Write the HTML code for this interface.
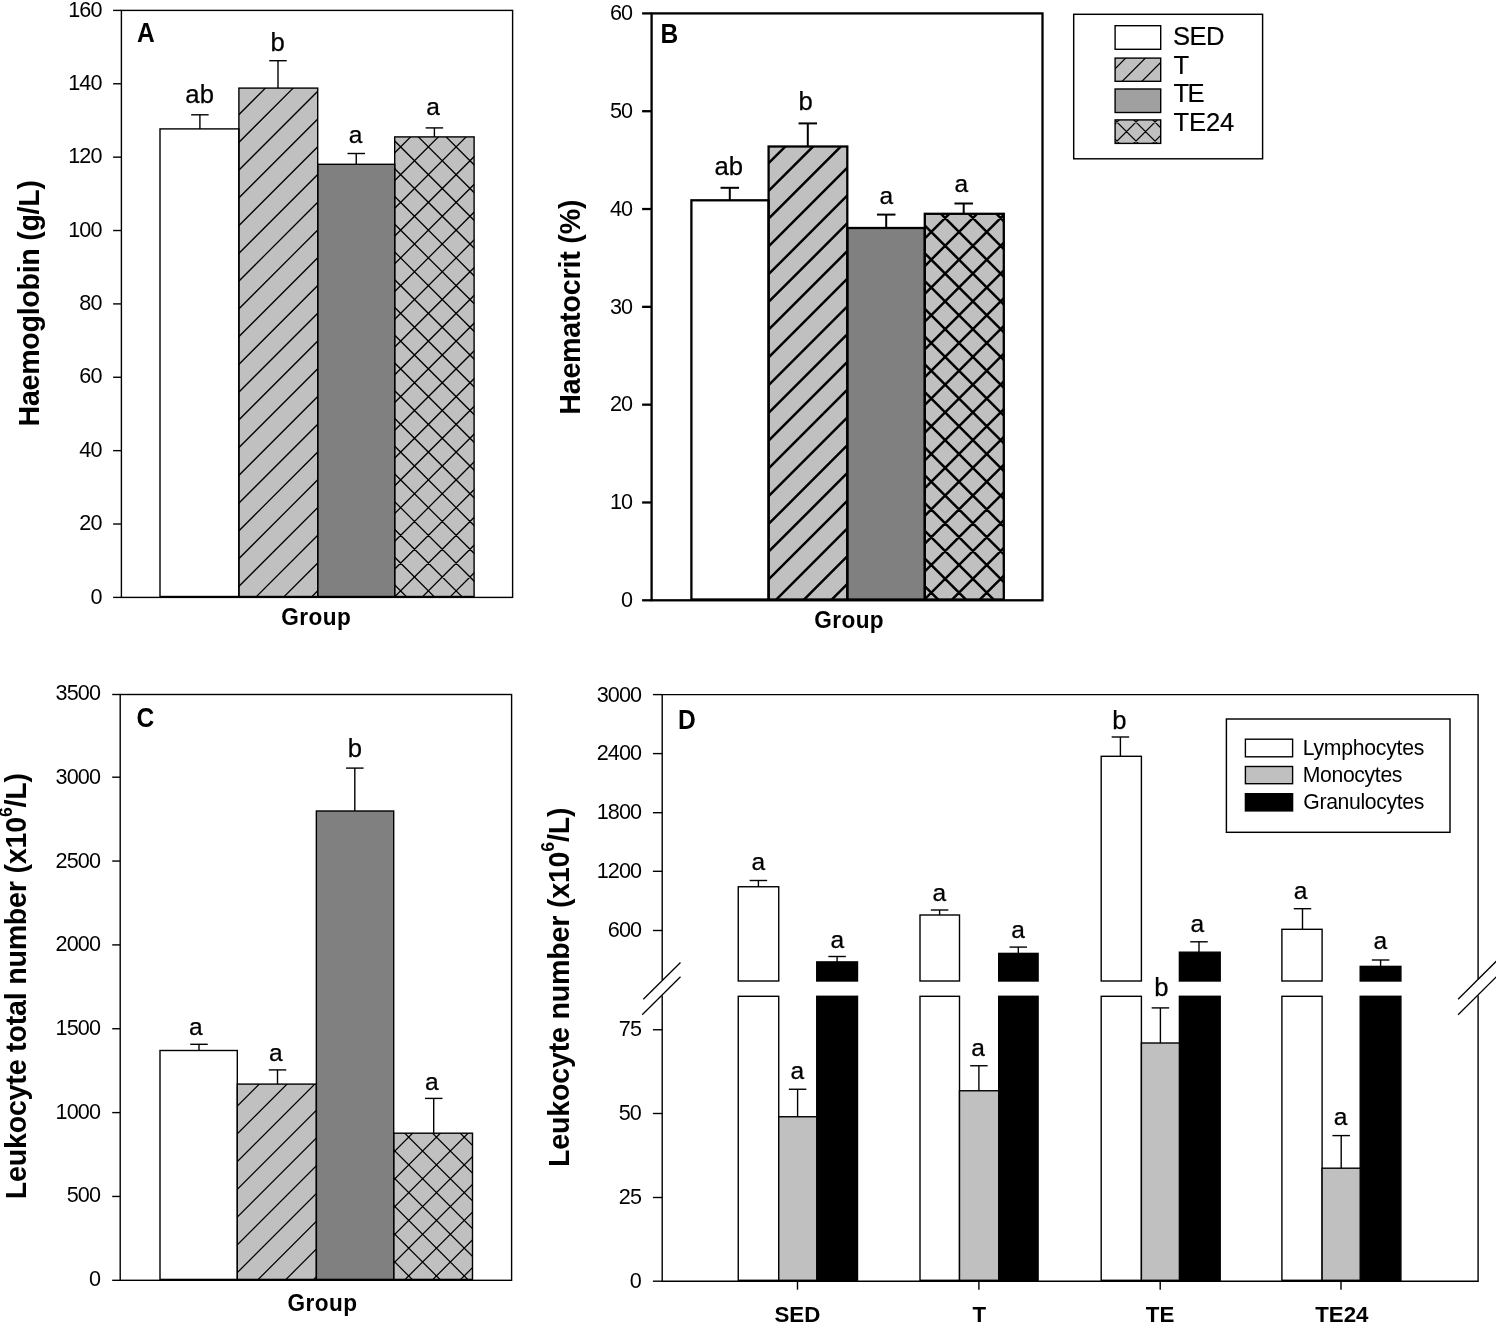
<!DOCTYPE html>
<html lang="en">
<head>
<meta charset="utf-8">
<title>Haematological parameters by group</title>
<style>
html,body{margin:0;padding:0;background:#fff;}
body{width:1496px;height:1323px;overflow:hidden;}
svg{display:block;}
text{font-family:"Liberation Sans", sans-serif;}
</style>
</head>
<body>
<svg width="1496" height="1323" viewBox="0 0 1496 1323" font-family='"Liberation Sans", sans-serif' fill="#000" role="img" aria-label="Haemoglobin, haematocrit and leukocyte counts by group">
<rect x="0" y="0" width="1496" height="1323" fill="#fff"/>
<g id="panelA">
<rect x="160" y="128.9" width="78.9" height="467.6" fill="#fff"/>
<rect x="238.9" y="88.1" width="78.8" height="508.4" fill="#c0c0c0"/>
<clipPath id="c1"><rect x="238.9" y="88.1" width="78.8" height="508.4"/></clipPath>
<path d="M236.9 61.1L319.7 -21.7M236.9 88.85L319.7 6.05M236.9 116.6L319.7 33.8M236.9 144.35L319.7 61.55M236.9 172.1L319.7 89.3M236.9 199.85L319.7 117.05M236.9 227.6L319.7 144.8M236.9 255.35L319.7 172.55M236.9 283.1L319.7 200.3M236.9 310.85L319.7 228.05M236.9 338.6L319.7 255.8M236.9 366.35L319.7 283.55M236.9 394.1L319.7 311.3M236.9 421.85L319.7 339.05M236.9 449.6L319.7 366.8M236.9 477.35L319.7 394.55M236.9 505.1L319.7 422.3M236.9 532.85L319.7 450.05M236.9 560.6L319.7 477.8M236.9 588.35L319.7 505.55M236.9 616.1L319.7 533.3M236.9 643.85L319.7 561.05M236.9 671.6L319.7 588.8M236.9 699.35L319.7 616.55M236.9 727.1L319.7 644.3" stroke="#000" stroke-width="1.25" fill="none" clip-path="url(#c1)"/>
<rect x="317.7" y="164.3" width="77" height="432.2" fill="#808080"/>
<rect x="394.7" y="136.9" width="79.4" height="459.6" fill="#c0c0c0"/>
<clipPath id="c2"><rect x="394.7" y="136.9" width="79.4" height="459.6"/></clipPath>
<path d="M392.7 99.3L476.1 15.9M392.7 127.05L476.1 43.65M392.7 154.8L476.1 71.4M392.7 182.55L476.1 99.15M392.7 210.3L476.1 126.9M392.7 238.05L476.1 154.65M392.7 265.8L476.1 182.4M392.7 293.55L476.1 210.15M392.7 321.3L476.1 237.9M392.7 349.05L476.1 265.65M392.7 376.8L476.1 293.4M392.7 404.55L476.1 321.15M392.7 432.3L476.1 348.9M392.7 460.05L476.1 376.65M392.7 487.8L476.1 404.4M392.7 515.55L476.1 432.15M392.7 543.3L476.1 459.9M392.7 571.05L476.1 487.65M392.7 598.8L476.1 515.4M392.7 626.55L476.1 543.15M392.7 654.3L476.1 570.9M392.7 682.05L476.1 598.65M392.7 709.8L476.1 626.4M392.7 638.45L476.1 721.85M392.7 610.7L476.1 694.1M392.7 582.95L476.1 666.35M392.7 555.2L476.1 638.6M392.7 527.45L476.1 610.85M392.7 499.7L476.1 583.1M392.7 471.95L476.1 555.35M392.7 444.2L476.1 527.6M392.7 416.45L476.1 499.85M392.7 388.7L476.1 472.1M392.7 360.95L476.1 444.35M392.7 333.2L476.1 416.6M392.7 305.45L476.1 388.85M392.7 277.7L476.1 361.1M392.7 249.95L476.1 333.35M392.7 222.2L476.1 305.6M392.7 194.45L476.1 277.85M392.7 166.7L476.1 250.1M392.7 138.95L476.1 222.35M392.7 111.2L476.1 194.6M392.7 83.45L476.1 166.85M392.7 55.7L476.1 139.1M392.7 27.95L476.1 111.35M392.7 0.2L476.1 83.6" stroke="#000" stroke-width="1.25" fill="none" clip-path="url(#c2)"/>
<rect x="160" y="128.9" width="78.9" height="467.6" fill="none" stroke="#000" stroke-width="1.4"/>
<line x1="199.9" y1="114.8" x2="199.9" y2="128.9" stroke="#000" stroke-width="1.4"/>
<line x1="191.15" y1="114.8" x2="208.65" y2="114.8" stroke="#000" stroke-width="1.4"/>
<text transform="translate(185.35 103.4)" font-size="25.7" stroke="#000" stroke-width="0.25">ab</text>
<rect x="238.9" y="88.1" width="78.8" height="508.4" fill="none" stroke="#000" stroke-width="1.4"/>
<line x1="278" y1="60.7" x2="278" y2="88.1" stroke="#000" stroke-width="1.4"/>
<line x1="269.25" y1="60.7" x2="286.75" y2="60.7" stroke="#000" stroke-width="1.4"/>
<text transform="translate(270.45 51)" font-size="25.7" stroke="#000" stroke-width="0.25">b</text>
<rect x="317.7" y="164.3" width="77" height="432.2" fill="none" stroke="#000" stroke-width="1.4"/>
<line x1="356.25" y1="153.5" x2="356.25" y2="164.3" stroke="#000" stroke-width="1.4"/>
<line x1="347.5" y1="153.5" x2="365" y2="153.5" stroke="#000" stroke-width="1.4"/>
<text transform="translate(348.68 142.7)" font-size="24.5" stroke="#000" stroke-width="0.25">a</text>
<rect x="394.7" y="136.9" width="79.4" height="459.6" fill="none" stroke="#000" stroke-width="1.4"/>
<line x1="434.4" y1="127.9" x2="434.4" y2="136.9" stroke="#000" stroke-width="1.4"/>
<line x1="425.65" y1="127.9" x2="443.15" y2="127.9" stroke="#000" stroke-width="1.4"/>
<text transform="translate(426.18 115.2)" font-size="24.5" stroke="#000" stroke-width="0.25">a</text>
<rect x="121.4" y="10.4" width="391.2" height="587" fill="none" stroke="#000" stroke-width="1.4"/>
<line x1="113.1" y1="597.4" x2="121.4" y2="597.4" stroke="#000" stroke-width="1.4"/>
<text transform="translate(90.42 603.6) scale(1.0000 1.0200)" font-size="21.6" letter-spacing="-0.9">0</text>
<line x1="113.1" y1="524.02" x2="121.4" y2="524.02" stroke="#000" stroke-width="1.4"/>
<text transform="translate(79.33 530.23) scale(1.0000 1.0200)" font-size="21.6" letter-spacing="-0.9">20</text>
<line x1="113.1" y1="450.65" x2="121.4" y2="450.65" stroke="#000" stroke-width="1.4"/>
<text transform="translate(79.33 456.85) scale(1.0000 1.0200)" font-size="21.6" letter-spacing="-0.9">40</text>
<line x1="113.1" y1="377.27" x2="121.4" y2="377.27" stroke="#000" stroke-width="1.4"/>
<text transform="translate(79.33 383.47) scale(1.0000 1.0200)" font-size="21.6" letter-spacing="-0.9">60</text>
<line x1="113.1" y1="303.9" x2="121.4" y2="303.9" stroke="#000" stroke-width="1.4"/>
<text transform="translate(79.33 310.1) scale(1.0000 1.0200)" font-size="21.6" letter-spacing="-0.9">80</text>
<line x1="113.1" y1="230.52" x2="121.4" y2="230.52" stroke="#000" stroke-width="1.4"/>
<text transform="translate(68.19 236.72) scale(1.0000 1.0200)" font-size="21.6" letter-spacing="-0.9">100</text>
<line x1="113.1" y1="157.15" x2="121.4" y2="157.15" stroke="#000" stroke-width="1.4"/>
<text transform="translate(68.19 163.35) scale(1.0000 1.0200)" font-size="21.6" letter-spacing="-0.9">120</text>
<line x1="113.1" y1="83.77" x2="121.4" y2="83.77" stroke="#000" stroke-width="1.4"/>
<text transform="translate(68.19 89.97) scale(1.0000 1.0200)" font-size="21.6" letter-spacing="-0.9">140</text>
<line x1="113.1" y1="10.4" x2="121.4" y2="10.4" stroke="#000" stroke-width="1.4"/>
<text transform="translate(68.19 16.6) scale(1.0000 1.0200)" font-size="21.6" letter-spacing="-0.9">160</text>
<text transform="translate(136.99 41.6) scale(0.9100 1.0000)" font-size="27" font-weight="bold">A</text>
<text transform="translate(281.2 625) scale(1.0000 1.0200)" font-size="22.6" font-weight="bold" letter-spacing="0.45">Group</text>
<text transform="translate(39.3 426.43) rotate(-90) scale(1.0000 1.0400)" font-size="28.6" font-weight="bold" letter-spacing="-0.28">Haemoglobin (g/L)</text>
</g>
<g id="panelB">
<rect x="691.4" y="200.3" width="77.2" height="399.2" fill="#fff"/>
<rect x="768.6" y="146.5" width="78.7" height="453" fill="#c0c0c0"/>
<clipPath id="c3"><rect x="768.6" y="146.5" width="78.7" height="453"/></clipPath>
<path d="M766.6 109.75L849.3 27.05M766.6 137.5L849.3 54.8M766.6 165.25L849.3 82.55M766.6 193L849.3 110.3M766.6 220.75L849.3 138.05M766.6 248.5L849.3 165.8M766.6 276.25L849.3 193.55M766.6 304L849.3 221.3M766.6 331.75L849.3 249.05M766.6 359.5L849.3 276.8M766.6 387.25L849.3 304.55M766.6 415L849.3 332.3M766.6 442.75L849.3 360.05M766.6 470.5L849.3 387.8M766.6 498.25L849.3 415.55M766.6 526L849.3 443.3M766.6 553.75L849.3 471.05M766.6 581.5L849.3 498.8M766.6 609.25L849.3 526.55M766.6 637L849.3 554.3M766.6 664.75L849.3 582.05M766.6 692.5L849.3 609.8M766.6 720.25L849.3 637.55" stroke="#000" stroke-width="2.5" fill="none" clip-path="url(#c3)"/>
<rect x="847.3" y="228" width="77.5" height="371.5" fill="#808080"/>
<rect x="924.8" y="213.8" width="79" height="385.7" fill="#c0c0c0"/>
<clipPath id="c4"><rect x="924.8" y="213.8" width="79" height="385.7"/></clipPath>
<path d="M922.8 184.85L1005.8 101.85M922.8 212.6L1005.8 129.6M922.8 240.35L1005.8 157.35M922.8 268.1L1005.8 185.1M922.8 295.85L1005.8 212.85M922.8 323.6L1005.8 240.6M922.8 351.35L1005.8 268.35M922.8 379.1L1005.8 296.1M922.8 406.85L1005.8 323.85M922.8 434.6L1005.8 351.6M922.8 462.35L1005.8 379.35M922.8 490.1L1005.8 407.1M922.8 517.85L1005.8 434.85M922.8 545.6L1005.8 462.6M922.8 573.35L1005.8 490.35M922.8 601.1L1005.8 518.1M922.8 628.85L1005.8 545.85M922.8 656.6L1005.8 573.6M922.8 684.35L1005.8 601.35M922.8 712.1L1005.8 629.1M922.8 639.7L1005.8 722.7M922.8 611.95L1005.8 694.95M922.8 584.2L1005.8 667.2M922.8 556.45L1005.8 639.45M922.8 528.7L1005.8 611.7M922.8 500.95L1005.8 583.95M922.8 473.2L1005.8 556.2M922.8 445.45L1005.8 528.45M922.8 417.7L1005.8 500.7M922.8 389.95L1005.8 472.95M922.8 362.2L1005.8 445.2M922.8 334.45L1005.8 417.45M922.8 306.7L1005.8 389.7M922.8 278.95L1005.8 361.95M922.8 251.2L1005.8 334.2M922.8 223.45L1005.8 306.45M922.8 195.7L1005.8 278.7M922.8 167.95L1005.8 250.95M922.8 140.2L1005.8 223.2M922.8 112.45L1005.8 195.45M922.8 84.7L1005.8 167.7" stroke="#000" stroke-width="2.5" fill="none" clip-path="url(#c4)"/>
<rect x="691.4" y="200.3" width="77.2" height="399.2" fill="none" stroke="#000" stroke-width="2.3"/>
<line x1="729.8" y1="187.8" x2="729.8" y2="200.3" stroke="#000" stroke-width="2.0"/>
<line x1="720.55" y1="187.8" x2="739.05" y2="187.8" stroke="#000" stroke-width="2.0"/>
<text transform="translate(714.5 174.6)" font-size="25.7" stroke="#000" stroke-width="0.25">ab</text>
<rect x="768.6" y="146.5" width="78.7" height="453" fill="none" stroke="#000" stroke-width="2.3"/>
<line x1="807.8" y1="123.4" x2="807.8" y2="146.5" stroke="#000" stroke-width="2.0"/>
<line x1="798.55" y1="123.4" x2="817.05" y2="123.4" stroke="#000" stroke-width="2.0"/>
<text transform="translate(798.55 109.9)" font-size="25.7" stroke="#000" stroke-width="0.25">b</text>
<rect x="847.3" y="228" width="77.5" height="371.5" fill="none" stroke="#000" stroke-width="2.3"/>
<line x1="886.2" y1="214.6" x2="886.2" y2="228" stroke="#000" stroke-width="2.0"/>
<line x1="876.95" y1="214.6" x2="895.45" y2="214.6" stroke="#000" stroke-width="2.0"/>
<text transform="translate(879.58 204.2)" font-size="24.5" stroke="#000" stroke-width="0.25">a</text>
<rect x="924.8" y="213.8" width="79" height="385.7" fill="none" stroke="#000" stroke-width="2.3"/>
<line x1="963.7" y1="203.5" x2="963.7" y2="213.8" stroke="#000" stroke-width="2.0"/>
<line x1="954.45" y1="203.5" x2="972.95" y2="203.5" stroke="#000" stroke-width="2.0"/>
<text transform="translate(954.48 191.9)" font-size="24.5" stroke="#000" stroke-width="0.25">a</text>
<rect x="651.6" y="13.4" width="390.9" height="586.9" fill="none" stroke="#000" stroke-width="2.3"/>
<line x1="642.1" y1="600.3" x2="651.6" y2="600.3" stroke="#000" stroke-width="2.3"/>
<text transform="translate(621.02 607.1) scale(1.0000 1.0200)" font-size="21.6" letter-spacing="-0.9">0</text>
<line x1="642.1" y1="502.48" x2="651.6" y2="502.48" stroke="#000" stroke-width="2.3"/>
<text transform="translate(609.93 509.28) scale(1.0000 1.0200)" font-size="21.6" letter-spacing="-0.9">10</text>
<line x1="642.1" y1="404.67" x2="651.6" y2="404.67" stroke="#000" stroke-width="2.3"/>
<text transform="translate(609.93 411.47) scale(1.0000 1.0200)" font-size="21.6" letter-spacing="-0.9">20</text>
<line x1="642.1" y1="306.85" x2="651.6" y2="306.85" stroke="#000" stroke-width="2.3"/>
<text transform="translate(609.93 313.65) scale(1.0000 1.0200)" font-size="21.6" letter-spacing="-0.9">30</text>
<line x1="642.1" y1="209.03" x2="651.6" y2="209.03" stroke="#000" stroke-width="2.3"/>
<text transform="translate(609.93 215.83) scale(1.0000 1.0200)" font-size="21.6" letter-spacing="-0.9">40</text>
<line x1="642.1" y1="111.22" x2="651.6" y2="111.22" stroke="#000" stroke-width="2.3"/>
<text transform="translate(609.93 118.02) scale(1.0000 1.0200)" font-size="21.6" letter-spacing="-0.9">50</text>
<line x1="642.1" y1="13.4" x2="651.6" y2="13.4" stroke="#000" stroke-width="2.3"/>
<text transform="translate(609.93 20.2) scale(1.0000 1.0200)" font-size="21.6" letter-spacing="-0.9">60</text>
<text transform="translate(660.44 43.2) scale(0.9100 1.0000)" font-size="27" font-weight="bold">B</text>
<text transform="translate(814.3 627.5) scale(1.0000 1.0200)" font-size="22.6" font-weight="bold" letter-spacing="0.4">Group</text>
<text transform="translate(580.2 414.83) rotate(-90) scale(1.0000 1.0400)" font-size="28.6" font-weight="bold" letter-spacing="-0.16">Haematocrit (%)</text>
</g>
<g id="legendTop">
<rect x="1073.7" y="14.3" width="188.9" height="144.5" fill="#fff" stroke="#000" stroke-width="1.45"/>
<rect x="1115.1" y="25.7" width="45.6" height="23.6" fill="#fff"/>
<rect x="1115.1" y="25.7" width="45.6" height="23.6" fill="none" stroke="#000" stroke-width="1.4"/>
<text transform="translate(1173.05 44.9)" font-size="25.6" stroke="#000" stroke-width="0.2" letter-spacing="-0.65">SED</text>
<rect x="1115.1" y="58.1" width="45.6" height="23.2" fill="#c0c0c0"/>
<clipPath id="c5"><rect x="1115.1" y="58.1" width="45.6" height="23.2"/></clipPath>
<path d="M1113.1 31.3L1162.7 -18.3M1113.1 51L1162.7 1.4M1113.1 70.7L1162.7 21.1M1113.1 90.4L1162.7 40.8M1113.1 110.1L1162.7 60.5M1113.1 129.8L1162.7 80.2M1113.1 149.5L1162.7 99.9" stroke="#000" stroke-width="1.2" fill="none" clip-path="url(#c5)"/>
<rect x="1115.1" y="58.1" width="45.6" height="23.2" fill="none" stroke="#000" stroke-width="1.4"/>
<text transform="translate(1173.62 73.5)" font-size="25.6" stroke="#000" stroke-width="0.2">T</text>
<rect x="1115.1" y="89" width="45.6" height="23.5" fill="#a0a0a0"/>
<rect x="1115.1" y="89" width="45.6" height="23.5" fill="none" stroke="#000" stroke-width="1.4"/>
<text transform="translate(1173.62 101.9)" font-size="25.6" stroke="#000" stroke-width="0.2" letter-spacing="-1.74">TE</text>
<rect x="1115.1" y="119.9" width="45.6" height="23.5" fill="#c0c0c0"/>
<clipPath id="c6"><rect x="1115.1" y="119.9" width="45.6" height="23.5"/></clipPath>
<path d="M1113.1 88L1162.7 38.4M1113.1 107L1162.7 57.4M1113.1 126L1162.7 76.4M1113.1 145L1162.7 95.4M1113.1 164L1162.7 114.4M1113.1 183L1162.7 133.4M1113.1 202L1162.7 152.4M1113.1 221L1162.7 171.4M1113.1 175.2L1162.7 224.8M1113.1 156.2L1162.7 205.8M1113.1 137.2L1162.7 186.8M1113.1 118.2L1162.7 167.8M1113.1 99.2L1162.7 148.8M1113.1 80.2L1162.7 129.8M1113.1 61.2L1162.7 110.8M1113.1 42.2L1162.7 91.8" stroke="#000" stroke-width="1.2" fill="none" clip-path="url(#c6)"/>
<rect x="1115.1" y="119.9" width="45.6" height="23.5" fill="none" stroke="#000" stroke-width="1.4"/>
<text transform="translate(1173.62 130.6)" font-size="25.6" stroke="#000" stroke-width="0.2" letter-spacing="-0.17">TE24</text>
</g>
<g id="panelC">
<rect x="160" y="1050.5" width="77.3" height="228.9" fill="#fff"/>
<rect x="237.3" y="1084.1" width="79.05" height="195.3" fill="#c0c0c0"/>
<clipPath id="c7"><rect x="237.3" y="1084.1" width="79.05" height="195.3"/></clipPath>
<path d="M235.3 1052.6L318.35 969.55M235.3 1080.35L318.35 997.3M235.3 1108.1L318.35 1025.05M235.3 1135.85L318.35 1052.8M235.3 1163.6L318.35 1080.55M235.3 1191.35L318.35 1108.3M235.3 1219.1L318.35 1136.05M235.3 1246.85L318.35 1163.8M235.3 1274.6L318.35 1191.55M235.3 1302.35L318.35 1219.3M235.3 1330.1L318.35 1247.05M235.3 1357.85L318.35 1274.8M235.3 1385.6L318.35 1302.55M235.3 1413.35L318.35 1330.3" stroke="#000" stroke-width="1.25" fill="none" clip-path="url(#c7)"/>
<rect x="316.35" y="811" width="77.35" height="468.4" fill="#808080"/>
<rect x="393.7" y="1133.2" width="78.8" height="146.2" fill="#c0c0c0"/>
<clipPath id="c8"><rect x="393.7" y="1133.2" width="78.8" height="146.2"/></clipPath>
<path d="M391.7 1098.65L474.5 1015.85M391.7 1126.4L474.5 1043.6M391.7 1154.15L474.5 1071.35M391.7 1181.9L474.5 1099.1M391.7 1209.65L474.5 1126.85M391.7 1237.4L474.5 1154.6M391.7 1265.15L474.5 1182.35M391.7 1292.9L474.5 1210.1M391.7 1320.65L474.5 1237.85M391.7 1348.4L474.5 1265.6M391.7 1376.15L474.5 1293.35M391.7 1403.9L474.5 1321.1M391.7 1314.4L474.5 1397.2M391.7 1286.65L474.5 1369.45M391.7 1258.9L474.5 1341.7M391.7 1231.15L474.5 1313.95M391.7 1203.4L474.5 1286.2M391.7 1175.65L474.5 1258.45M391.7 1147.9L474.5 1230.7M391.7 1120.15L474.5 1202.95M391.7 1092.4L474.5 1175.2M391.7 1064.65L474.5 1147.45M391.7 1036.9L474.5 1119.7M391.7 1009.15L474.5 1091.95" stroke="#000" stroke-width="1.25" fill="none" clip-path="url(#c8)"/>
<rect x="160" y="1050.5" width="77.3" height="228.9" fill="none" stroke="#000" stroke-width="1.4"/>
<line x1="199" y1="1044.3" x2="199" y2="1050.5" stroke="#000" stroke-width="1.4"/>
<line x1="190.25" y1="1044.3" x2="207.75" y2="1044.3" stroke="#000" stroke-width="1.4"/>
<text transform="translate(188.88 1035.4)" font-size="24.5" stroke="#000" stroke-width="0.25">a</text>
<rect x="237.3" y="1084.1" width="79.05" height="195.3" fill="none" stroke="#000" stroke-width="1.4"/>
<line x1="277.5" y1="1069.9" x2="277.5" y2="1084.1" stroke="#000" stroke-width="1.4"/>
<line x1="268.75" y1="1069.9" x2="286.25" y2="1069.9" stroke="#000" stroke-width="1.4"/>
<text transform="translate(268.98 1060.8)" font-size="24.5" stroke="#000" stroke-width="0.25">a</text>
<rect x="316.35" y="811" width="77.35" height="468.4" fill="none" stroke="#000" stroke-width="1.4"/>
<line x1="354.8" y1="768.1" x2="354.8" y2="811" stroke="#000" stroke-width="1.4"/>
<line x1="346.05" y1="768.1" x2="363.55" y2="768.1" stroke="#000" stroke-width="1.4"/>
<text transform="translate(347.75 756.5)" font-size="25.7" stroke="#000" stroke-width="0.25">b</text>
<rect x="393.7" y="1133.2" width="78.8" height="146.2" fill="none" stroke="#000" stroke-width="1.4"/>
<line x1="433.7" y1="1098.4" x2="433.7" y2="1133.2" stroke="#000" stroke-width="1.4"/>
<line x1="424.95" y1="1098.4" x2="442.45" y2="1098.4" stroke="#000" stroke-width="1.4"/>
<text transform="translate(425.08 1089.9)" font-size="24.5" stroke="#000" stroke-width="0.25">a</text>
<rect x="120.2" y="694.5" width="391.4" height="585.8" fill="none" stroke="#000" stroke-width="1.4"/>
<line x1="112.2" y1="1280.3" x2="120.2" y2="1280.3" stroke="#000" stroke-width="1.4"/>
<text transform="translate(88.92 1286.05) scale(1.0000 1.0200)" font-size="21.6" letter-spacing="-0.9">0</text>
<line x1="112.2" y1="1196.45" x2="120.2" y2="1196.45" stroke="#000" stroke-width="1.4"/>
<text transform="translate(66.69 1202.38) scale(1.0000 1.0200)" font-size="21.6" letter-spacing="-0.9">500</text>
<line x1="112.2" y1="1112.6" x2="120.2" y2="1112.6" stroke="#000" stroke-width="1.4"/>
<text transform="translate(55.6 1118.71) scale(1.0000 1.0200)" font-size="21.6" letter-spacing="-0.9">1000</text>
<line x1="112.2" y1="1028.75" x2="120.2" y2="1028.75" stroke="#000" stroke-width="1.4"/>
<text transform="translate(55.6 1035.04) scale(1.0000 1.0200)" font-size="21.6" letter-spacing="-0.9">1500</text>
<line x1="112.2" y1="944.9" x2="120.2" y2="944.9" stroke="#000" stroke-width="1.4"/>
<text transform="translate(55.6 951.37) scale(1.0000 1.0200)" font-size="21.6" letter-spacing="-0.9">2000</text>
<line x1="112.2" y1="861.05" x2="120.2" y2="861.05" stroke="#000" stroke-width="1.4"/>
<text transform="translate(55.6 867.7) scale(1.0000 1.0200)" font-size="21.6" letter-spacing="-0.9">2500</text>
<line x1="112.2" y1="777.2" x2="120.2" y2="777.2" stroke="#000" stroke-width="1.4"/>
<text transform="translate(55.6 784.03) scale(1.0000 1.0200)" font-size="21.6" letter-spacing="-0.9">3000</text>
<line x1="112.2" y1="694.5" x2="120.2" y2="694.5" stroke="#000" stroke-width="1.4"/>
<text transform="translate(55.6 700.36) scale(1.0000 1.0200)" font-size="21.6" letter-spacing="-0.9">3500</text>
<text transform="translate(136.52 727) scale(0.9100 1.0000)" font-size="27" font-weight="bold">C</text>
<text transform="translate(287.5 1310.5) scale(1.0000 1.0200)" font-size="22.6" font-weight="bold" letter-spacing="0.43">Group</text>
<text transform="translate(26.4 1199.23) rotate(-90) scale(1.0000 1.0400)" font-size="28.6" font-weight="bold" letter-spacing="-0.2">Leukocyte total number (x10<tspan font-size="17.6" dy="-13.6">6</tspan><tspan dy="13.6">/L)</tspan></text>
</g>
<g id="panelD">
<rect x="738.25" y="886.75" width="40.5" height="94.25" fill="#fff" stroke="#000" stroke-width="1.4"/>
<rect x="738.25" y="996.3" width="40.5" height="284" fill="#fff" stroke="#000" stroke-width="1.4"/>
<line x1="758.4" y1="880.5" x2="758.4" y2="886.75" stroke="#000" stroke-width="1.4"/>
<line x1="749.65" y1="880.5" x2="767.15" y2="880.5" stroke="#000" stroke-width="1.4"/>
<text transform="translate(751.53 870.2)" font-size="24.5" stroke="#000" stroke-width="0.25">a</text>
<rect x="816.75" y="961.9" width="40.75" height="19.1" fill="#000" stroke="#000" stroke-width="1.4"/>
<rect x="816.75" y="996.3" width="40.75" height="284" fill="#000" stroke="#000" stroke-width="1.4"/>
<line x1="837.1" y1="956.5" x2="837.1" y2="961.9" stroke="#000" stroke-width="1.4"/>
<line x1="828.35" y1="956.5" x2="845.85" y2="956.5" stroke="#000" stroke-width="1.4"/>
<text transform="translate(830.38 947.6)" font-size="24.5" stroke="#000" stroke-width="0.25">a</text>
<rect x="778.75" y="1116.75" width="38" height="163.55" fill="#c0c0c0" stroke="#000" stroke-width="1.4"/>
<line x1="797.6" y1="1089.25" x2="797.6" y2="1116.75" stroke="#000" stroke-width="1.4"/>
<line x1="788.85" y1="1089.25" x2="806.35" y2="1089.25" stroke="#000" stroke-width="1.4"/>
<text transform="translate(790.43 1079.3)" font-size="24.5" stroke="#000" stroke-width="0.25">a</text>
<line x1="797.5" y1="1281.2" x2="797.5" y2="1289.7" stroke="#000" stroke-width="1.4"/>
<text transform="translate(774.4 1321.6)" font-size="22.3" font-weight="bold">SED</text>
<rect x="920" y="915" width="39.5" height="66" fill="#fff" stroke="#000" stroke-width="1.4"/>
<rect x="920" y="996.3" width="39.5" height="284" fill="#fff" stroke="#000" stroke-width="1.4"/>
<line x1="939.6" y1="910" x2="939.6" y2="915" stroke="#000" stroke-width="1.4"/>
<line x1="930.85" y1="910" x2="948.35" y2="910" stroke="#000" stroke-width="1.4"/>
<text transform="translate(932.38 900.8)" font-size="24.5" stroke="#000" stroke-width="0.25">a</text>
<rect x="998.7" y="953.4" width="39.4" height="27.6" fill="#000" stroke="#000" stroke-width="1.4"/>
<rect x="998.7" y="996.3" width="39.4" height="284" fill="#000" stroke="#000" stroke-width="1.4"/>
<line x1="1018.3" y1="947.1" x2="1018.3" y2="953.4" stroke="#000" stroke-width="1.4"/>
<line x1="1009.55" y1="947.1" x2="1027.05" y2="947.1" stroke="#000" stroke-width="1.4"/>
<text transform="translate(1011.18 938.4)" font-size="24.5" stroke="#000" stroke-width="0.25">a</text>
<rect x="959.5" y="1090.75" width="39.2" height="189.55" fill="#c0c0c0" stroke="#000" stroke-width="1.4"/>
<line x1="978.9" y1="1065.75" x2="978.9" y2="1090.75" stroke="#000" stroke-width="1.4"/>
<line x1="970.15" y1="1065.75" x2="987.65" y2="1065.75" stroke="#000" stroke-width="1.4"/>
<text transform="translate(971.18 1056.1)" font-size="24.5" stroke="#000" stroke-width="0.25">a</text>
<line x1="978.9" y1="1281.2" x2="978.9" y2="1289.7" stroke="#000" stroke-width="1.4"/>
<text transform="translate(972.4 1321.6)" font-size="22.3" font-weight="bold">T</text>
<rect x="1101.2" y="756.3" width="40.2" height="224.7" fill="#fff" stroke="#000" stroke-width="1.4"/>
<rect x="1101.2" y="996.3" width="40.2" height="284" fill="#fff" stroke="#000" stroke-width="1.4"/>
<line x1="1120.4" y1="737" x2="1120.4" y2="756.3" stroke="#000" stroke-width="1.4"/>
<line x1="1111.65" y1="737" x2="1129.15" y2="737" stroke="#000" stroke-width="1.4"/>
<text transform="translate(1112.15 729.3)" font-size="25.7" stroke="#000" stroke-width="0.25">b</text>
<rect x="1179.4" y="952.2" width="40.8" height="28.8" fill="#000" stroke="#000" stroke-width="1.4"/>
<rect x="1179.4" y="996.3" width="40.8" height="284" fill="#000" stroke="#000" stroke-width="1.4"/>
<line x1="1199" y1="941.8" x2="1199" y2="952.2" stroke="#000" stroke-width="1.4"/>
<line x1="1190.25" y1="941.8" x2="1207.75" y2="941.8" stroke="#000" stroke-width="1.4"/>
<text transform="translate(1190.58 931.9)" font-size="24.5" stroke="#000" stroke-width="0.25">a</text>
<rect x="1141.4" y="1043" width="38" height="237.3" fill="#c0c0c0" stroke="#000" stroke-width="1.4"/>
<line x1="1160.4" y1="1007.9" x2="1160.4" y2="1043" stroke="#000" stroke-width="1.4"/>
<line x1="1151.65" y1="1007.9" x2="1169.15" y2="1007.9" stroke="#000" stroke-width="1.4"/>
<text transform="translate(1154.25 996)" font-size="25.7" stroke="#000" stroke-width="0.25">b</text>
<line x1="1160.2" y1="1281.2" x2="1160.2" y2="1289.7" stroke="#000" stroke-width="1.4"/>
<text transform="translate(1145.79 1321.6)" font-size="22.3" font-weight="bold">TE</text>
<rect x="1281.9" y="929.3" width="40.2" height="51.7" fill="#fff" stroke="#000" stroke-width="1.4"/>
<rect x="1281.9" y="996.3" width="40.2" height="284" fill="#fff" stroke="#000" stroke-width="1.4"/>
<line x1="1302.5" y1="908.7" x2="1302.5" y2="929.3" stroke="#000" stroke-width="1.4"/>
<line x1="1293.75" y1="908.7" x2="1311.25" y2="908.7" stroke="#000" stroke-width="1.4"/>
<text transform="translate(1293.78 899.2)" font-size="24.5" stroke="#000" stroke-width="0.25">a</text>
<rect x="1360.2" y="966.4" width="40.7" height="14.6" fill="#000" stroke="#000" stroke-width="1.4"/>
<rect x="1360.2" y="996.3" width="40.7" height="284" fill="#000" stroke="#000" stroke-width="1.4"/>
<line x1="1380.6" y1="960" x2="1380.6" y2="966.4" stroke="#000" stroke-width="1.4"/>
<line x1="1371.85" y1="960" x2="1389.35" y2="960" stroke="#000" stroke-width="1.4"/>
<text transform="translate(1373.58 948.8)" font-size="24.5" stroke="#000" stroke-width="0.25">a</text>
<rect x="1322.1" y="1168.2" width="38.1" height="112.1" fill="#c0c0c0" stroke="#000" stroke-width="1.4"/>
<line x1="1341.2" y1="1135.6" x2="1341.2" y2="1168.2" stroke="#000" stroke-width="1.4"/>
<line x1="1332.45" y1="1135.6" x2="1349.95" y2="1135.6" stroke="#000" stroke-width="1.4"/>
<text transform="translate(1333.68 1125.3)" font-size="24.5" stroke="#000" stroke-width="0.25">a</text>
<line x1="1341" y1="1281.2" x2="1341" y2="1289.7" stroke="#000" stroke-width="1.4"/>
<text transform="translate(1315.2 1321.6)" font-size="22.3" font-weight="bold">TE24</text>
<path d="M662.2 980.1V694.6H1478.1V978.9M1478.1 995.4V1281.2H662.2V995.4" fill="none" stroke="#000" stroke-width="1.4"/>
<line x1="643.3" y1="999.3" x2="680.5" y2="962.5" stroke="#000" stroke-width="1.3"/>
<line x1="642.2" y1="1014.7" x2="680.5" y2="976.7" stroke="#000" stroke-width="1.3"/>
<line x1="1458.1" y1="999.3" x2="1496.5" y2="961" stroke="#000" stroke-width="1.3"/>
<line x1="1458.1" y1="1014.7" x2="1496.5" y2="976.6" stroke="#000" stroke-width="1.3"/>
<line x1="652.9" y1="694.6" x2="662.2" y2="694.6" stroke="#000" stroke-width="1.4"/>
<text transform="translate(596.7 701.6) scale(1.0000 1.0200)" font-size="21.6" letter-spacing="-0.9">3000</text>
<line x1="652.9" y1="753.6" x2="662.2" y2="753.6" stroke="#000" stroke-width="1.4"/>
<text transform="translate(596.7 759.8) scale(1.0000 1.0200)" font-size="21.6" letter-spacing="-0.9">2400</text>
<line x1="652.9" y1="812.7" x2="662.2" y2="812.7" stroke="#000" stroke-width="1.4"/>
<text transform="translate(596.7 818.9) scale(1.0000 1.0200)" font-size="21.6" letter-spacing="-0.9">1800</text>
<line x1="652.9" y1="871.3" x2="662.2" y2="871.3" stroke="#000" stroke-width="1.4"/>
<text transform="translate(596.7 878.4) scale(1.0000 1.0200)" font-size="21.6" letter-spacing="-0.9">1200</text>
<line x1="652.9" y1="930.5" x2="662.2" y2="930.5" stroke="#000" stroke-width="1.4"/>
<text transform="translate(607.79 937.3) scale(1.0000 1.0200)" font-size="21.6" letter-spacing="-0.9">600</text>
<line x1="652.9" y1="1281.2" x2="662.2" y2="1281.2" stroke="#000" stroke-width="1.4"/>
<text transform="translate(629.82 1287.6) scale(1.0000 1.0200)" font-size="21.6" letter-spacing="-0.9">0</text>
<line x1="652.9" y1="1197.5" x2="662.2" y2="1197.5" stroke="#000" stroke-width="1.4"/>
<text transform="translate(618.79 1203.9) scale(1.0000 1.0200)" font-size="21.6" letter-spacing="-0.9">25</text>
<line x1="652.9" y1="1113.5" x2="662.2" y2="1113.5" stroke="#000" stroke-width="1.4"/>
<text transform="translate(618.73 1119.9) scale(1.0000 1.0200)" font-size="21.6" letter-spacing="-0.9">50</text>
<line x1="652.9" y1="1029.75" x2="662.2" y2="1029.75" stroke="#000" stroke-width="1.4"/>
<text transform="translate(618.79 1036.15) scale(1.0000 1.0200)" font-size="21.6" letter-spacing="-0.9">75</text>
<text transform="translate(678.04 728.5) scale(0.9100 1.0000)" font-size="27" font-weight="bold">D</text>
<text transform="translate(568.5 1166.93) rotate(-90) scale(1.0000 1.0400)" font-size="28.6" font-weight="bold" letter-spacing="-0.19">Leukocyte number (x10<tspan font-size="17.6" dy="-13.6">6</tspan><tspan dy="13.6">/L)</tspan></text>
<rect x="1226.4" y="719" width="223.6" height="113.3" fill="#fff" stroke="#000" stroke-width="1.45"/>
<rect x="1245.4" y="739.2" width="47.2" height="17.6" fill="#fff" stroke="#000" stroke-width="1.4"/>
<text transform="translate(1302.65 754.5)" font-size="21.2" letter-spacing="-0.24">Lymphocytes</text>
<rect x="1245.4" y="766.5" width="47.2" height="17.2" fill="#c0c0c0" stroke="#000" stroke-width="1.4"/>
<text transform="translate(1302.65 781.6)" font-size="21.2" letter-spacing="-0.33">Monocytes</text>
<rect x="1245.4" y="793.7" width="47.2" height="17.2" fill="#000" stroke="#000" stroke-width="1.4"/>
<text transform="translate(1303.34 808.6)" font-size="21.2" letter-spacing="-0.35">Granulocytes</text>
</g>
</svg>
</body>
</html>
